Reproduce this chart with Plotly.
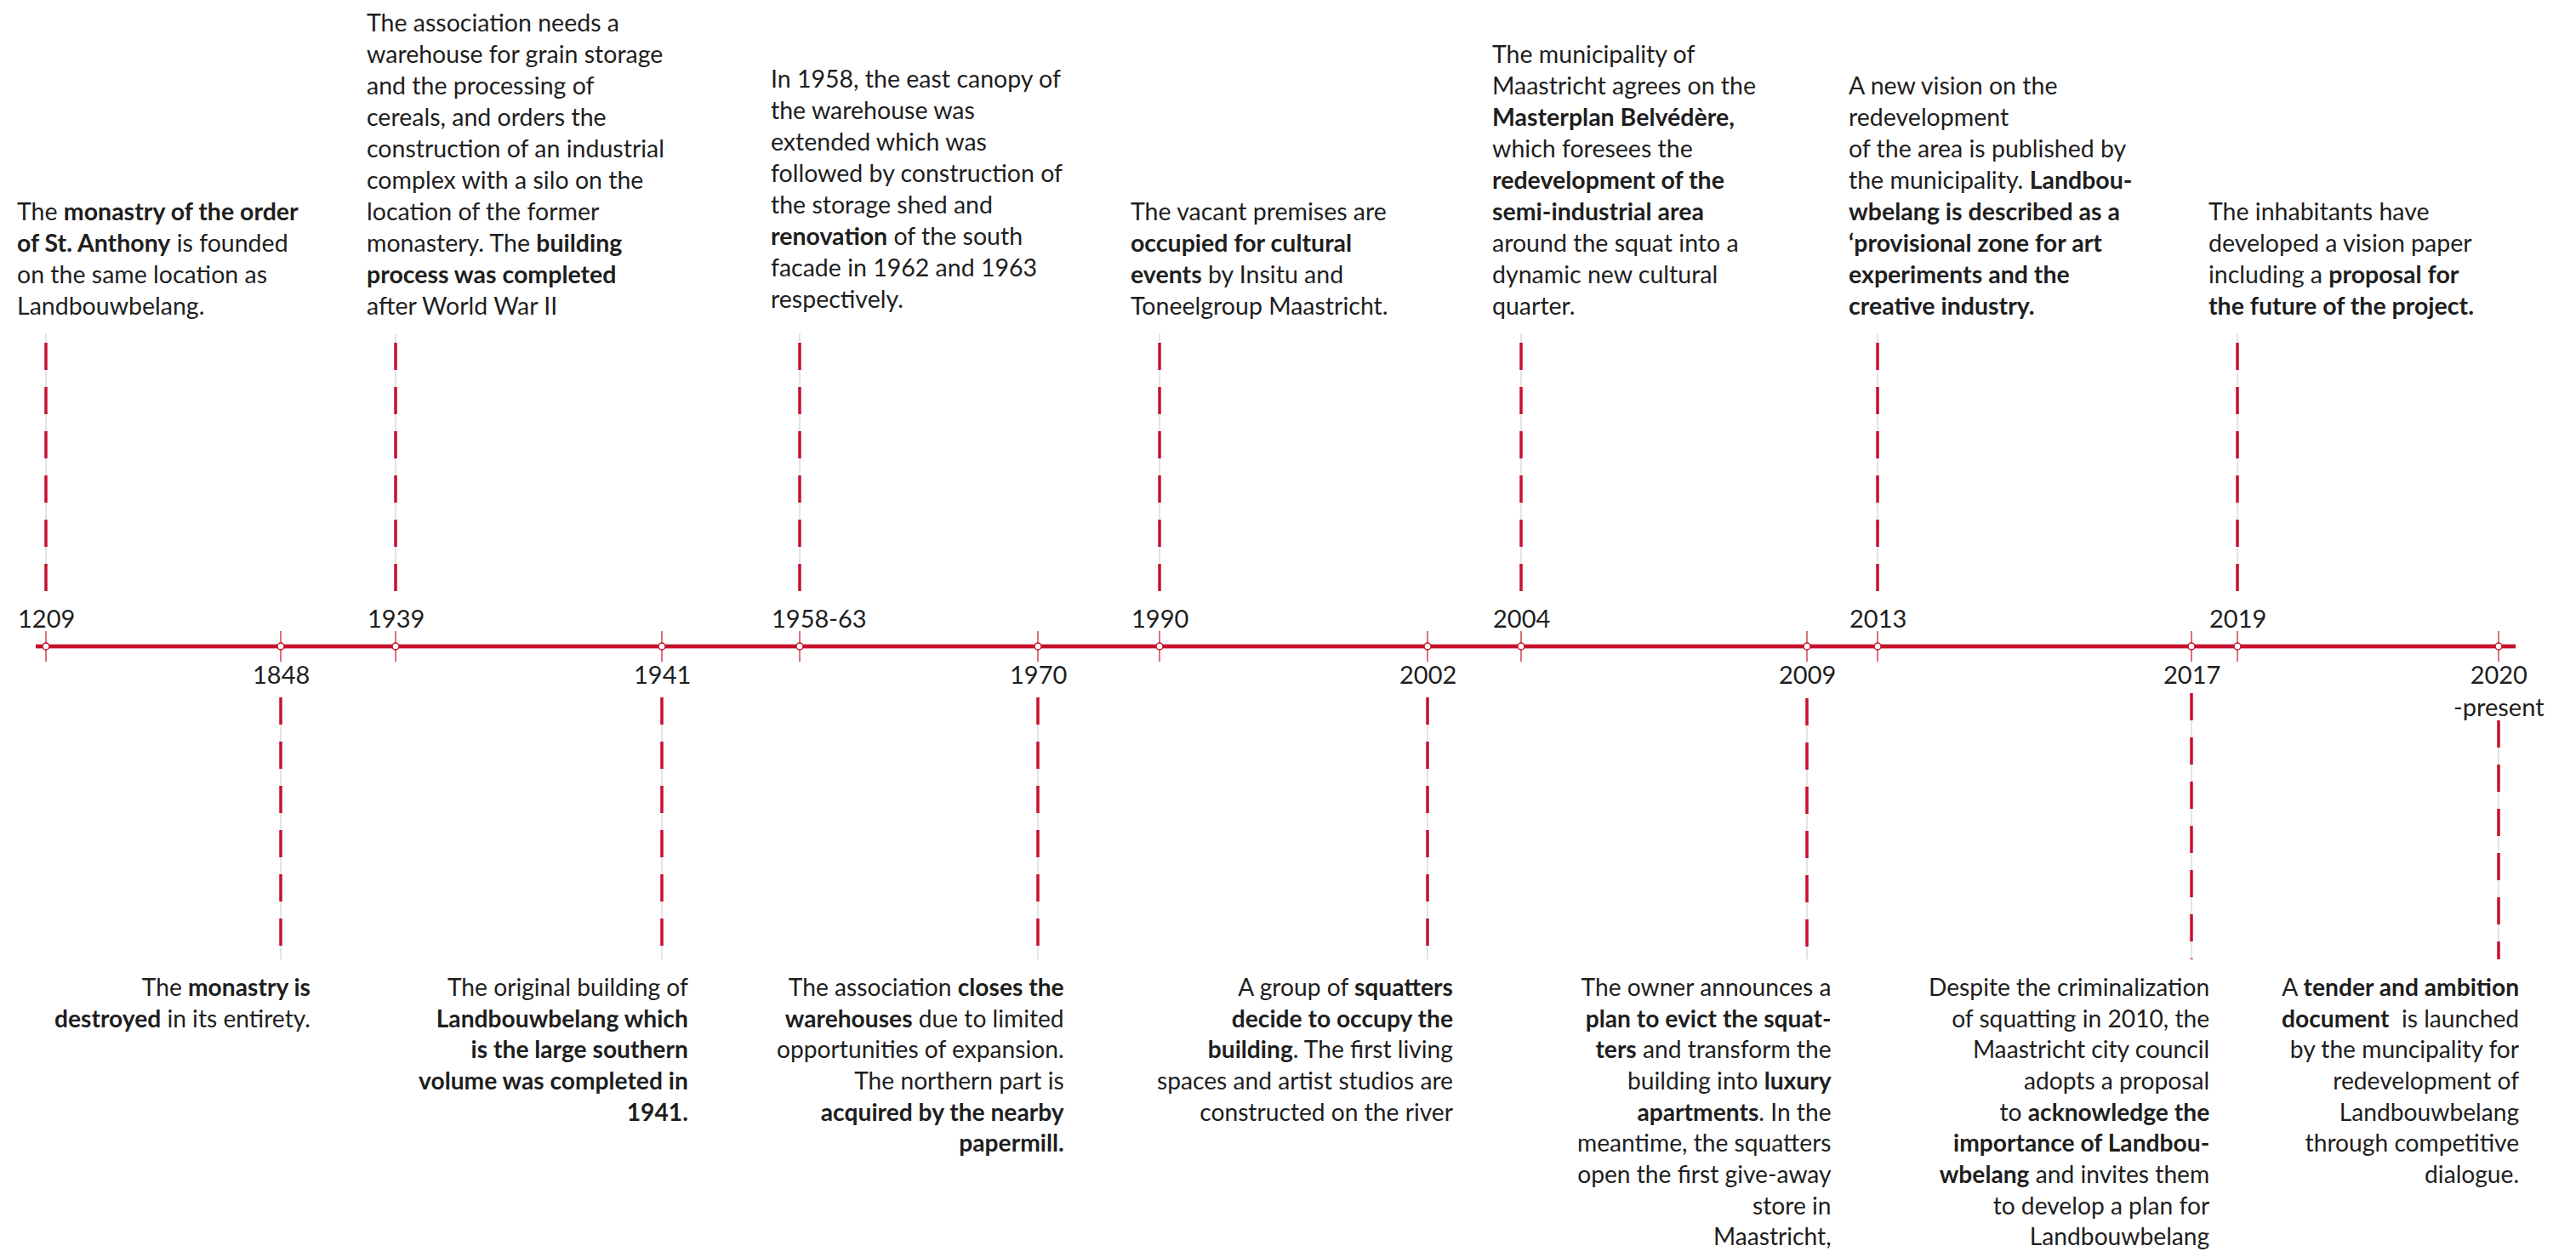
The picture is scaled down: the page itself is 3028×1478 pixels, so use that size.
import plotly.graph_objects as go

# ---------------- data ----------------
top_years = ["1209", "1939", "1958-63", "1990", "2004", "2013", "2019"]
top_texts = [
    "The <b>monastry of the order</b><br><b>of St. Anthony</b> is founded<br>on the same location as<br>Landbouwbelang.",
    "The association needs a<br>warehouse for grain storage<br>and the processing of<br>cereals, and orders the<br>construction of an industrial<br>complex with a silo on the<br>location of the former<br>monastery. The <b>building</b><br><b>process was completed</b><br>after World War II",
    "In 1958, the east canopy of<br>the warehouse was<br>extended which was<br>followed by construction of<br>the storage shed and<br><b>renovation</b> of the south<br>facade in 1962 and 1963<br>respectively.",
    "The vacant premises are<br><b>occupied for cultural</b><br><b>events</b> by Insitu and<br>Toneelgroup Maastricht.",
    "The municipality of<br>Maastricht agrees on the<br><b>Masterplan Belvédère,</b><br>which foresees the<br><b>redevelopment of the</b><br><b>semi-industrial area</b><br>around the squat into a<br>dynamic new cultural<br>quarter.",
    "A new vision on the<br>redevelopment<br>of the area is published by<br>the municipality. <b>Landbou-</b><br><b>wbelang is described as a</b><br><b>‘provisional zone for art</b><br><b>experiments and the</b><br><b>creative industry.</b>",
    "The inhabitants have<br>developed a vision paper<br>including a <b>proposal for</b><br><b>the future of the project.</b>",
]

bottom_years = ["1848", "1941", "1970", "2002", "2009", "2017", "2020<br>-present"]
bottom_texts = [
    "The <b>monastry is</b><br><b>destroyed</b> in its entirety.",
    "The original building of<br><b>Landbouwbelang which</b><br><b>is the large southern</b><br><b>volume was completed in</b><br><b>1941.</b>",
    "The association <b>closes the</b><br><b>warehouses</b> due to limited<br>opportunities of expansion.<br>The northern part is<br><b>acquired by the nearby</b><br><b>papermill.</b>",
    "A group of <b>squatters</b><br><b>decide to occupy the</b><br><b>building</b>. The first living<br>spaces and artist studios are<br>constructed on the river",
    "The owner announces a<br><b>plan to evict the squat-</b><br><b>ters</b> and transform the<br>building into <b>luxury</b><br><b>apartments</b>. In the<br>meantime, the squatters<br>open the first give-away<br>store in<br>Maastricht,",
    "Despite the criminalization<br>of squatting in 2010, the<br>Maastricht city council<br>adopts a proposal<br>to <b>acknowledge the</b><br><b>importance of Landbou-</b><br><b>wbelang</b> and invites them<br>to develop a plan for<br>Landbouwbelang",
    "A <b>tender and ambition</b><br><b>document</b>  is launched<br>by the muncipality for<br>redevelopment of<br>Landbouwbelang<br>through competitive<br>dialogue.",
]

# ---------------- layout (positions along the timeline, page pixels) ----------------
W, H = 3028, 1478
PAD = 8  # default body margin of the html page
top_slot = [54, 465, 940, 1363, 1788, 2207, 2630]
bottom_slot = [330, 778, 1220, 1678, 2124, 2576, 2937]
top_text_bottom = [378, 378, 370, 378, 378, 378, 378]
bottom_right = [367, 811, 1253, 1711, 2155, 2600, 2964]
bottom_line_start = [820, 820, 820, 820, 821, 815, 847]

LINE_Y = 760
TL_START, TL_END = 42, 2957
TOP_DASH = (695, 392)
BOTTOM_DASH_END = 1128
BOTTOM_TEXT_TOP = 1141

RED = "#C8102E"
TICK = "#D2404F"
GREY = "#C9C9C9"
INK = "#1E1E1E"
FONT = "Lato"
TEXT_SIZE = 28.5
BOTTOM_TEXT_SIZE = 28.2
YEAR_SIZE = 29

fig = go.Figure()

all_slots = sorted(top_slot + bottom_slot)

# thin grey connectors under the dashes
gx, gy = [], []
for x in top_slot:
    gx += [x, x, None]
    gy += [TOP_DASH[0], TOP_DASH[1], None]
for x, s in zip(bottom_slot, bottom_line_start):
    gx += [x, x, None]
    gy += [s, BOTTOM_DASH_END, None]
fig.add_trace(go.Scatter(x=gx, y=gy, mode="lines", line=dict(color=GREY, width=1),
                         hoverinfo="skip", showlegend=False))

# red dashed leaders
for x in top_slot:
    fig.add_trace(go.Scatter(x=[x, x], y=[TOP_DASH[0], TOP_DASH[1]], mode="lines",
                             line=dict(color=RED, width=3.5, dash="32px,20px"),
                             hoverinfo="skip", showlegend=False))
for x, s in zip(bottom_slot, bottom_line_start):
    fig.add_trace(go.Scatter(x=[x, x], y=[s, BOTTOM_DASH_END], mode="lines",
                             line=dict(color=RED, width=3.5, dash="32px,20px"),
                             hoverinfo="skip", showlegend=False))

# main timeline
fig.add_trace(go.Scatter(x=[TL_START, TL_END], y=[LINE_Y, LINE_Y], mode="lines",
                         line=dict(color="#E7A3AD", width=6), hoverinfo="skip", showlegend=False))
fig.add_trace(go.Scatter(x=[TL_START, TL_END], y=[LINE_Y, LINE_Y], mode="lines",
                         line=dict(color=RED, width=4), hoverinfo="skip", showlegend=False))

# tick marks
tx, ty = [], []
for x in all_slots:
    tx += [x, x, None]
    ty += [LINE_Y - 18, LINE_Y + 18, None]
fig.add_trace(go.Scatter(x=tx, y=ty, mode="lines", line=dict(color=TICK, width=1.5),
                         hoverinfo="skip", showlegend=False))

# circles
fig.add_trace(go.Scatter(x=all_slots, y=[LINE_Y] * len(all_slots), mode="markers",
                         marker=dict(symbol="circle", size=8, color="white",
                                     line=dict(color=RED, width=1.5)),
                         hoverinfo="skip", showlegend=False))

# year labels
for x, yr in zip(top_slot, top_years):
    fig.add_annotation(x=x - 35, y=726, text=yr, showarrow=False, xanchor="left",
                       yanchor="middle", font=dict(family=FONT, size=YEAR_SIZE, color=INK))
for x, yr in zip(bottom_slot, bottom_years):
    fig.add_annotation(x=x, y=773, text=yr, showarrow=False, xanchor="center",
                       yanchor="top", align="center",
                       font=dict(family=FONT, size=YEAR_SIZE, color=INK))

# description blocks
for x, yb, txt in zip(top_slot, top_text_bottom, top_texts):
    fig.add_annotation(x=x - 36, y=yb, text=txt, showarrow=False, xanchor="left",
                       yanchor="bottom", align="left",
                       font=dict(family=FONT, size=TEXT_SIZE, color=INK))
for xr, txt in zip(bottom_right, bottom_texts):
    fig.add_annotation(x=xr, y=BOTTOM_TEXT_TOP, text=txt, showarrow=False, xanchor="right",
                       yanchor="top", align="right",
                       font=dict(family=FONT, size=BOTTOM_TEXT_SIZE, color=INK))

fig.update_layout(
    width=W - 2 * PAD, height=H - 2 * PAD,
    margin=dict(l=0, r=0, t=0, b=0),
    paper_bgcolor="white", plot_bgcolor="white",
    xaxis=dict(range=[PAD, W - PAD], visible=False, fixedrange=True),
    yaxis=dict(range=[H - PAD, PAD], visible=False, fixedrange=True),
    showlegend=False,
)

fig.write_html("out.html")
